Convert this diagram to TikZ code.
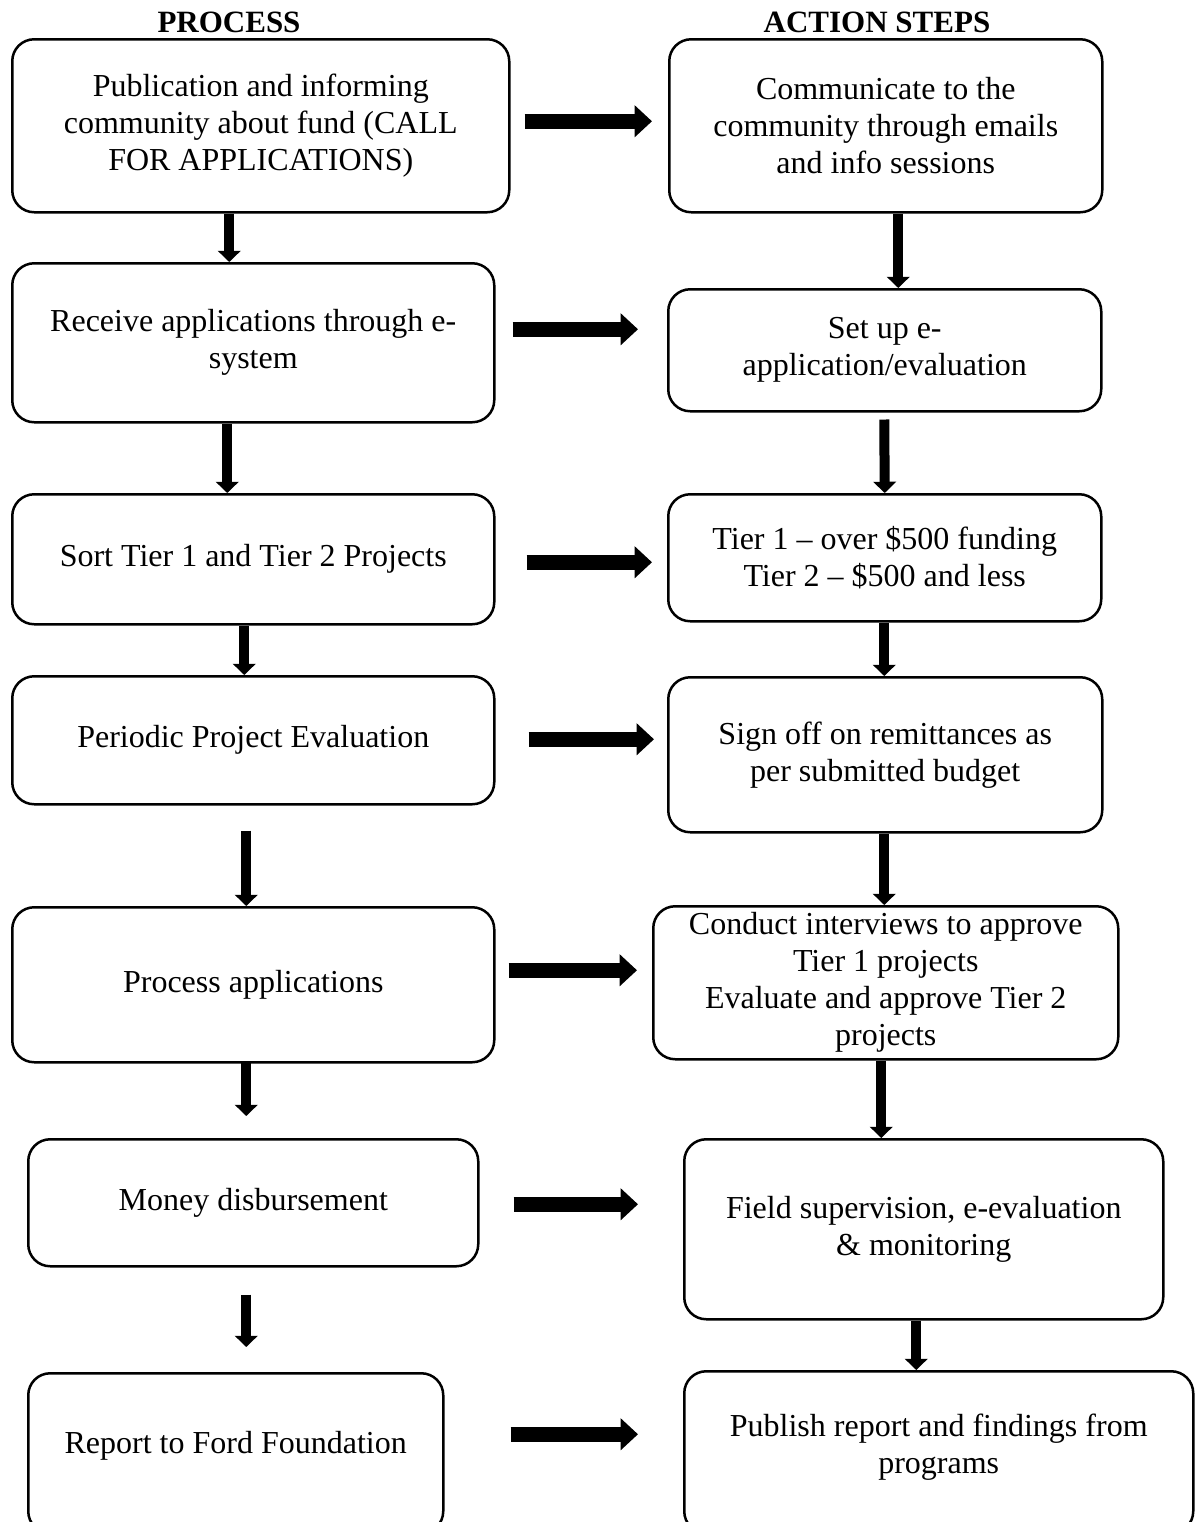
\documentclass[tikz,border=0pt]{standalone}
\usepackage{fontspec}
\setmainfont{Liberation Serif}
\usepackage{tikz}
\usetikzlibrary{positioning, calc, arrows.meta}

\begin{document}
\begin{tikzpicture}[x=0.4pt, y=-0.4pt,
    every node/.style={font=\fontsize{12.8}{14.8}\selectfont},
    box/.style 2 args={draw, line width=1pt, rounded corners=8.8pt, anchor=north west,
        align=center, inner sep=0pt, minimum width=#1*0.4pt, minimum height=#2*0.4pt},
    colhead/.style={font=\bfseries\fontsize{12.4}{14}\selectfont, anchor=base},
    harrow/.style={line width=6pt, -{Triangle[width=12.5pt,length=7pt]}},
    varrow/.style={line width=4pt, -{Triangle[width=9pt,length=4.5pt]}}]
    \fill[white] (0,0) rectangle (1202,1522);
    \useasboundingbox (0,0) rectangle (1202,1522);

    % Headings
    \node[colhead] (ph) at (229,32) {PROCESS};
    \node[colhead] (ah) at (877,32) {ACTION STEPS};

    % Process column
    \node[box={497}{173}] (p1) at (11,38) {Publication and informing\\community about fund (CALL\\FOR APPLICATIONS)};
    \node[box={482}{159}] (p2) at (11,262) {Receive applications through e-\\system};
    \node[box={482}{130}] (p3) at (11,493) {Sort Tier 1 and Tier 2 Projects};
    \node[box={482}{128}] (p4) at (11,675) {Periodic Project Evaluation};
    \node[box={482}{155}] (p5) at (11,906) {Process applications};
    \node[box={450}{127}] (p6) at (27,1138) {Money disbursement};
    \node[box={415}{160}, text depth=8.4pt] (p7) at (27,1372) {Report to Ford Foundation};

    % Action steps column
    \node[box={433}{173}] (a1) at (668,38) {Communicate to the\\community through emails\\and info sessions};
    \node[box={433}{122}] (a2) at (667,288) {Set up e-\\application/evaluation};
    \node[box={433}{127}] (a3) at (667,493) {Tier 1 – over \$500 funding\\Tier 2 – \$500 and less};
    \node[box={434}{155}] (a4) at (667,676) {Sign off on remittances as\\per submitted budget};
    \node[box={465}{153}] (a5) at (652,905) {Conduct interviews to approve\\Tier 1 projects\\Evaluate and approve Tier 2\\projects};
    \node[box={479}{180}] (a6) at (683,1138) {Field supervision, e-evaluation\\\& monitoring};
    \node[box={509}{162}, text depth=6.8pt] (a7) at (683,1370) {Publish report and findings from\\programs};

    % Downward arrows
    \draw[varrow] ($(p1.south)+(-31.5,0)$) -- ($(p2.north)+(-24,0)$);
    \draw[varrow] ($(p2.south)+(-26,0)$) -- ($(p3.north)+(-26,0)$);
    \draw[varrow] ($(p3.south)+(-9,0)$) -- ($(p4.north)+(-9,0)$);
    \draw[varrow] ($(p4.south)+(-7,25)$) -- ($(p5.north)+(-7,0)$);
    \draw[varrow] ($(p5.south)+(-7,-2)$) -- ($(p6.north)+(-7,-22)$);
    \draw[varrow] ($(p6.south)+(-7,27)$) -- ($(p7.north)+(10.5,-25)$);

    \draw[varrow] ($(a1.south)+(12.5,0)$) -- ($(a2.north)+(13.5,0)$);
    \draw[varrow] ($(a2.south)+(-0.5,7)$) -- (a3.north);
    \draw[varrow] ($(a3.south)+(-0.5,0)$) -- ($(a4.north)+(-1,0)$);
    \draw[varrow] ($(a4.south)+(-1,0)$) -- ($(a5.north)+(-1.5,0)$);
    \draw[varrow] ($(a5.south)+(-4.5,0)$) -- ($(a6.north)+(-42.5,0)$);
    \draw[varrow] ($(a6.south)+(-7.5,0)$) -- ($(a7.north)+(-22.5,0)$);

    % Process to action arrows
    \draw[harrow] ($(p1.east)+(14,-4.5)$) -- ($(a1.west)+(-16,-4.5)$);
    \draw[harrow] ($(p2.east)+(17,-13.5)$) -- ($(a2.west)+(-29,-21)$);
    \draw[harrow] ($(p3.east)+(31,3)$) -- ($(a3.west)+(-15,4.5)$);
    \draw[harrow] ($(p4.east)+(33,-1)$) -- ($(a4.west)+(-13,-15.5)$);
    \draw[harrow] ($(p5.east)+(13,-14.5)$) -- ($(a5.west)+(-15,-12.5)$);
    \draw[harrow] ($(p6.east)+(34,1.5)$) -- ($(a6.west)+(-45,-25)$);
    \draw[harrow] ($(p7.east)+(66,-19)$) -- ($(a7.west)+(-45,-18)$);
\end{tikzpicture}
\end{document}
